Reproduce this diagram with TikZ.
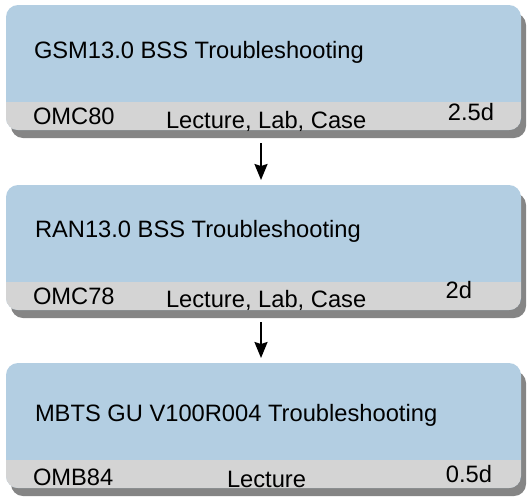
\documentclass[tikz,border=0pt]{standalone}
\usepackage{fontspec}
\setmainfont{Liberation Sans}
\usetikzlibrary{shadows,arrows.meta}
\definecolor{boxblue}{HTML}{B3CEE2}
\definecolor{boxgray}{HTML}{D4D4D4}
\definecolor{shadowgray}{HTML}{858585}
\begin{document}
\begin{tikzpicture}[x=1pt,y=-1pt,
  box/.style={rectangle, rounded corners=12pt, inner sep=0pt, outer sep=0pt,
    minimum width=515pt, minimum height=125pt, fill=boxblue, anchor=north west,
    drop shadow={shadow xshift=5pt, shadow yshift=-8pt, fill=shadowgray, opacity=1},
    path picture={\fill[boxgray, sharp corners] ([yshift=28pt]path picture bounding box.south west)
      rectangle (path picture bounding box.south east);}},
  txt/.style={inner sep=0pt, outer sep=0pt, font=\fontsize{23.7}{28}\selectfont, text=black},
  arr/.style={line width=2pt, -{Stealth[width=13pt,length=16pt,inset=2pt]}}]
\useasboundingbox (0,0) rectangle (530,496);
% boxes
\node[box] (b1) at (6,5) {};
\node[box] (b2) at (6,185) {};
\node[box] (b3) at (6,363) {};
% box 1 texts
\node[txt, anchor=base west] (t1) at (34,58) {GSM13.0 BSS Troubleshooting};
\node[txt, anchor=base west] (c1) at (33,124) {OMC80};
\node[txt, anchor=base west] (m1) at (166,128) {Lecture, Lab, Case};
\node[txt, anchor=base east] (d1) at (494,120) {2.5d};
% box 2 texts
\node[txt, anchor=base west] (t2) at (35,237) {RAN13.0 BSS Troubleshooting};
\node[txt, anchor=base west] (c2) at (33,304) {OMC78};
\node[txt, anchor=base west] (m2) at (166,307) {Lecture, Lab, Case};
\node[txt, anchor=base east] (d2) at (472,298) {2d};
% box 3 texts
\node[txt, anchor=base west] (t3) at (35,421) {MBTS GU V100R004 Troubleshooting};
\node[txt, anchor=base west] (c3) at (33,485) {OMB84};
\node[txt, anchor=base west] (m3) at (227,487) {Lecture};
\node[txt, anchor=base east] (d3) at (492,482) {0.5d};
% arrows
\draw[arr] ([xshift=-2.5pt,yshift=-13pt]b1.south) -- ([xshift=-2.5pt,yshift=5pt]b2.north);
\draw[arr] ([xshift=-2.5pt,yshift=-12pt]b2.south) -- ([xshift=-2.5pt,yshift=5pt]b3.north);
\end{tikzpicture}
\end{document}
